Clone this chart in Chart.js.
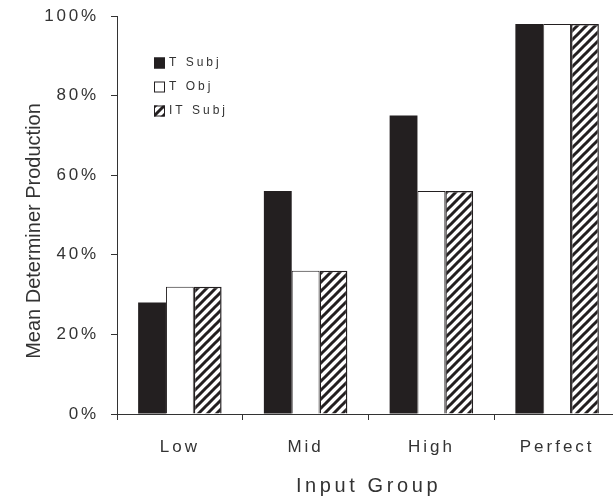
<!DOCTYPE html>
<html>
<head>
<meta charset="utf-8">
<script src="https://cdn.jsdelivr.net/npm/chart.js@4.4.1/dist/chart.umd.min.js"></script>
<style>
  html, body { margin: 0; padding: 0; background: #fff; overflow: hidden; }
  #wrap { width: 620px; height: 498px; }
</style>
</head>
<body>
<div id="wrap"><canvas id="c" width="620" height="498"></canvas></div>
<script>
/* data */
const groups  = ['Low', 'Mid', 'High', 'Perfect'];
const tSubj   = [28, 56, 75, 98];
const tObj    = [32, 36, 56, 98];
const itSubj  = [32, 36, 56, 98];
const yTicks  = [0, 20, 40, 60, 80, 100];

const INK = '#231f20';
const TXT = '#333';
const SANS = '"Liberation Sans", Arial, sans-serif';

/* diagonal hatch, "/" direction */
function hatch() {
  const s = 9;
  const p = document.createElement('canvas');
  p.width = s; p.height = s;
  const g = p.getContext('2d');
  g.fillStyle = '#fff'; g.fillRect(0, 0, s, s);
  g.strokeStyle = INK; g.lineWidth = 3;
  g.beginPath();
  g.moveTo(-1, s + 1); g.lineTo(s + 1, -1);
  g.moveTo(-s / 2 - 1, s / 2 + 1); g.lineTo(s / 2 + 1, -s / 2 - 1);
  g.moveTo(s / 2 - 1, s * 1.5 + 1); g.lineTo(s * 1.5 + 1, s / 2 - 1);
  g.stroke();
  return g.createPattern(p, 'repeat');
}

const ctx = document.getElementById('c').getContext('2d');
const hatchFill = hatch();

/* letter spacing (and a small shift) for the axis text */
function styled(fn, px, dy) {
  return function (...a) {
    const c = this.ctx;
    c.save();
    c.letterSpacing = px + 'px';
    if (dy) c.translate(0, dy);
    fn.apply(this, a);
    c.restore();
  };
}
const spacingPlugin = {
  id: 'spacing',
  beforeDraw(chart) {
    if (chart._spaced) return;
    chart._spaced = true;
    const x = chart.scales.x, y = chart.scales.y;
    x.drawLabels = styled(x.drawLabels, 3);
    x.drawTitle  = styled(x.drawTitle, 3.6);
    y.drawLabels = styled(y.drawLabels, 2.8);
    y.drawTitle  = styled(y.drawTitle, 0, 16);
  }
};

/* legend drawn inside the plot, top-left */
const legendPlugin = {
  id: 'innerLegend',
  afterDraw(chart) {
    const c = chart.ctx;
    const x0 = 154, y0 = 63, step = 24, box = 11;
    c.save();
    c.font = '12px ' + SANS;
    c.letterSpacing = '3px';
    c.textBaseline = 'middle';
    chart.data.datasets.forEach((ds, i) => {
      const yy = y0 + i * step;
      c.fillStyle = ds.backgroundColor;
      c.fillRect(x0, yy - box / 2, box, box);
      c.strokeStyle = INK; c.lineWidth = 1;
      c.strokeRect(x0 + 0.5, yy - box / 2 + 0.5, box - 1, box - 1);
      c.fillStyle = TXT;
      c.fillText(ds.label, x0 + box + 4, yy);
    });
    c.restore();
  }
};

new Chart(ctx, {
  type: 'bar',
  data: {
    labels: groups,
    datasets: [
      { label: 'T Subj',  data: tSubj,  backgroundColor: INK,  borderColor: INK, borderWidth: 0 },
      { label: 'T Obj',   data: tObj,   backgroundColor: '#fff', borderColor: INK, borderWidth: 1 },
      { label: 'IT Subj', data: itSubj, backgroundColor: hatchFill, borderColor: INK, borderWidth: 1.5 }
    ]
  },
  options: {
    responsive: false,
    animation: false,
    devicePixelRatio: 1,
    layout: { padding: { top: 16, left: 0, right: 0, bottom: 0 } },
    datasets: { bar: { categoryPercentage: 0.664, barPercentage: 1 } },
    plugins: { legend: { display: false }, tooltip: { enabled: false } },
    scales: {
      x: {
        grid: { offset: true, drawOnChartArea: false, tickLength: 6, color: TXT },
        border: { color: TXT, width: 1 },
        ticks: { color: TXT, padding: 17, font: { family: SANS, size: 17 } },
        title: {
          display: true, text: 'Input Group', color: TXT,
          font: { family: SANS, size: 20, lineHeight: 1.2 },
          padding: { top: 0, bottom: 0 }
        },
        afterFit(s) { s.height = 84; s.paddingLeft = 0; s.paddingRight = 0; }
      },
      y: {
        min: 0, max: 100,
        afterBuildTicks(s) { s.ticks = yTicks.map(v => ({ value: v })); },
        grid: { drawOnChartArea: false, tickLength: 6, color: TXT },
        border: { color: TXT, width: 1 },
        ticks: { color: TXT, padding: 12, font: { family: SANS, size: 17 }, callback: v => v + '%' },
        title: {
          display: true, text: 'Mean Determiner Production', color: TXT,
          font: { family: SANS, size: 20, lineHeight: 1.2 },
          padding: { top: 22, bottom: 0 }
        },
        afterFit(s) { s.width = 117; s.paddingTop = 0; s.paddingBottom = 0; }
      }
    }
  },
  plugins: [spacingPlugin, legendPlugin]
});
</script>
</body>
</html>
